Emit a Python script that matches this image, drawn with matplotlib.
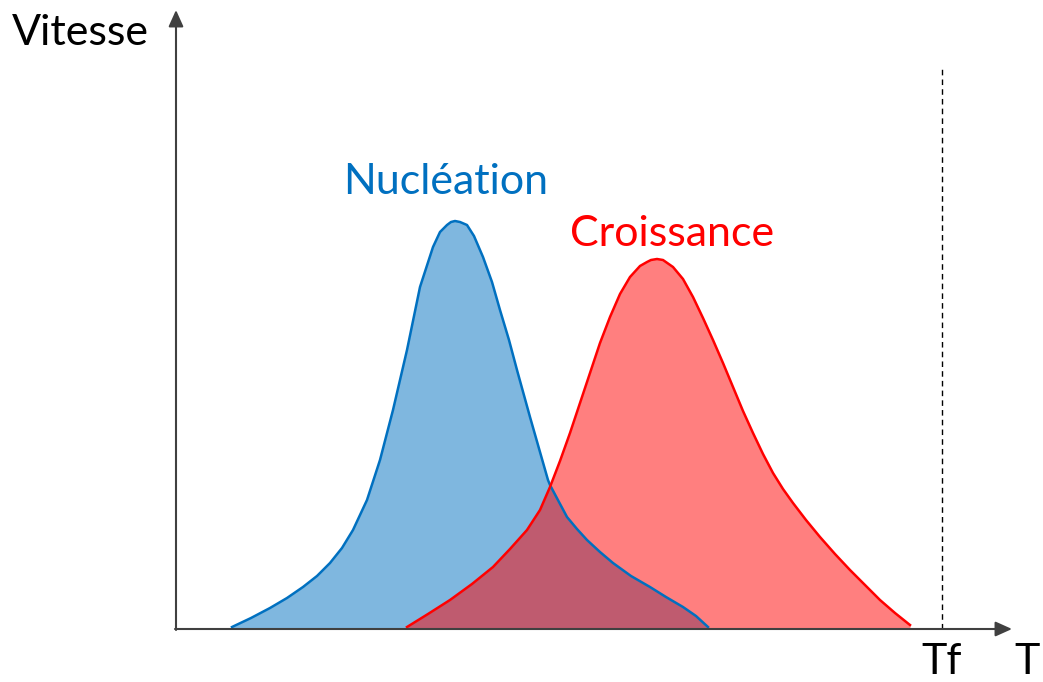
import numpy as np
import matplotlib.pyplot as plt

# Courbes (T depuis l'origine, vitesse vers le haut)
t_nuc = [56, 75, 94, 111, 127, 141, 154, 166, 177, 191, 204, 217, 231, 244, 257,
         264, 271, 275, 279, 284, 291, 298, 307, 316, 324, 333, 341, 354, 372,
         374, 383, 391, 401, 411, 424, 437, 455, 474, 490, 507, 520, 532]
v_nuc = [2, 11, 21, 31, 42, 53, 66, 81, 99, 129, 169, 219, 279, 342, 382,
         397, 404, 407, 408, 407, 404, 393, 372, 347, 319, 289, 259, 212, 149,
         144, 127, 112, 100, 89, 77, 66, 53, 42, 32, 22, 13, 2]

t_cro = [231, 252, 274, 296, 317, 334, 351, 364, 374, 384, 394, 404, 414, 424,
         434, 444, 454, 464, 471, 475, 481, 487, 497, 507, 517, 527, 537, 547,
         557, 567, 577, 587, 597, 607, 617, 630, 644, 659, 674, 689, 704, 719, 734]
v_cro = [2, 15, 29, 45, 62, 80, 99, 119, 142, 168, 196, 226, 256, 286,
         312, 335, 352, 363, 367, 369, 370, 369, 362, 350, 332, 311, 289, 266,
         242, 218, 196, 175, 156, 140, 126, 109, 92, 75, 59, 44, 29, 16, 4]

t_fusion = 766
labels = ['Nucléation', 'Croissance']

plt.rcParams['font.family'] = ['Lato', 'DejaVu Sans']

fig = plt.figure(figsize=(10.43, 6.82), dpi=100)
ax = fig.add_axes([0, 0, 1, 1])
ax.set_xlim(-176, 867)
ax.set_ylim(-53, 629)
ax.axis('off')

# Nucléation
ax.fill_between(t_nuc, v_nuc, 0, color='#0070C0', alpha=0.5, lw=0)
ax.plot(t_nuc, v_nuc, color='#0070C0', lw=1.8)
# Croissance
ax.fill_between(t_cro, v_cro, 0, color='#FF0000', alpha=0.5, lw=0)
ax.plot(t_cro, v_cro, color='#FF0000', lw=1.8)

# Axes avec flèches
ax.annotate('', xy=(836, 0), xytext=(-1, 0),
            arrowprops=dict(arrowstyle='-|>,head_length=1.0,head_width=0.45',
                            color='#404040', lw=1.5, shrinkA=0, shrinkB=0))
ax.annotate('', xy=(0, 619), xytext=(0, -1),
            arrowprops=dict(arrowstyle='-|>,head_length=1.0,head_width=0.45',
                            color='#404040', lw=1.5, shrinkA=0, shrinkB=0))

# Température de fusion
ax.plot([t_fusion, t_fusion], [0, 562], color='black', lw=1, ls=(0, (4, 3)))

ax.text(-164, 596, 'Vitesse', fontsize=31, color='black', va='center', ha='left')
ax.text(t_fusion, -45, 'Tf', fontsize=31, color='black', va='baseline', ha='center')
ax.text(864, -45, 'T', fontsize=31, color='black', va='baseline', ha='right')
ax.text(270, 447, labels[0], fontsize=31, color='#0070C0', va='center', ha='center')
ax.text(496, 395, labels[1], fontsize=31, color='#FF0000', va='center', ha='center')

fig.savefig('out.png', dpi=100)
